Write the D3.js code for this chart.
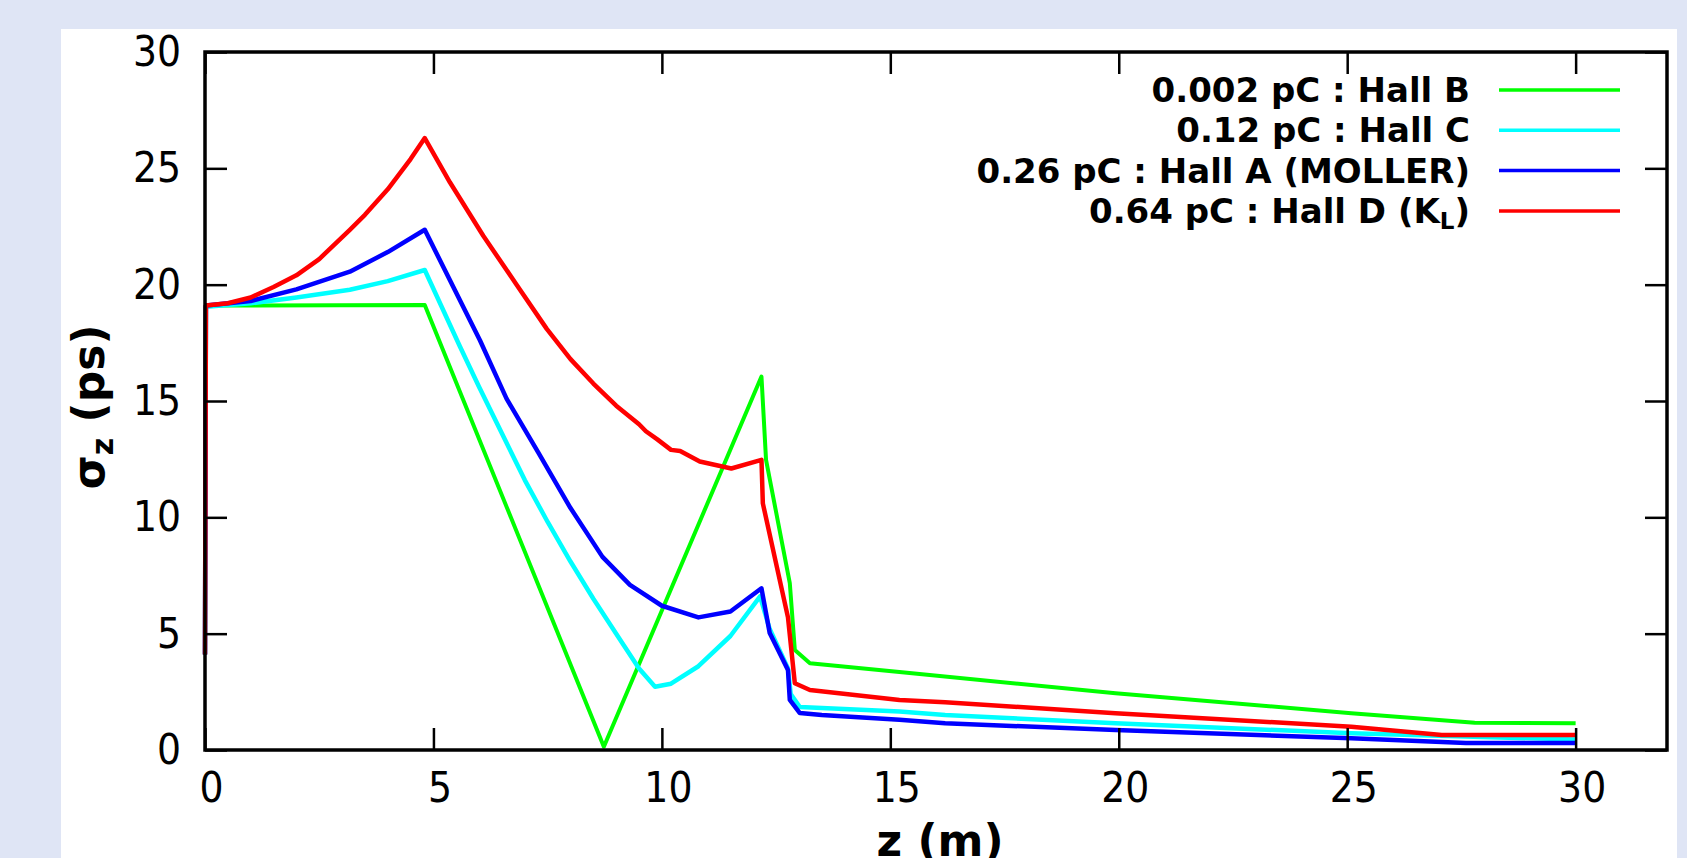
<!DOCTYPE html>
<html>
<head>
<meta charset="utf-8">
<script src="https://cdn.jsdelivr.net/npm/d3@7"></script>
<style>
  body { margin: 0; background: #dfe5f5; }
  svg { display: block; }
</style>
</head>
<body>
<div id="chart"></div>
<script>
// bunch length along the beamline
let zTicks = [0, 5, 10, 15, 20, 25, 30];
let sigmaTicks = [0, 5, 10, 15, 20, 25, 30];

let hallBz = [0, 0.02, 4.81, 8.73, 12.18, 12.28, 12.8, 12.91, 13.24, 15.2, 19.93, 25.09, 27.79, 30];
let hallBs = [4.1, 19.1, 19.13, 0.14, 16.05, 12.47, 7.17, 4.3, 3.73, 3.35, 2.44, 1.58, 1.17, 1.15];

let hallCz = [0, 0.02, 1, 2, 3.17, 4, 4.81, 5.58, 6, 7, 7.5, 8, 8.5, 9, 9.5, 9.85, 10.2, 10.8, 11.5, 12.15, 12.36, 12.76, 12.82, 13.02, 15.2, 16.2, 19.93, 25.09, 30];
let hallCs = [4.1, 19.05, 19.2, 19.45, 19.78, 20.15, 20.63, 17.34, 15.6, 11.6, 9.8, 8.1, 6.5, 5.0, 3.5, 2.72, 2.85, 3.6, 4.9, 6.6, 5.2, 3.5, 2.4, 1.85, 1.65, 1.5, 1.15, 0.72, 0.45];

let hallAz = [0, 0.02, 1, 2, 3.17, 4, 4.81, 6.02, 6.6, 7.29, 8, 8.7, 9.3, 10, 10.8, 11.5, 12.18, 12.36, 12.76, 12.8, 13.02, 13.5, 15.2, 16.2, 19.93, 25.09, 27.6, 30];
let hallAs = [4.1, 19.1, 19.3, 19.8, 20.56, 21.4, 22.36, 17.6, 15.1, 12.8, 10.4, 8.3, 7.1, 6.2, 5.7, 5.95, 6.95, 5.03, 3.44, 2.15, 1.59, 1.5, 1.3, 1.15, 0.86, 0.5, 0.3, 0.3];

let hallDz = [0, 0.02, 0.5, 1, 1.5, 2, 2.5, 3.17, 3.5, 4, 4.5, 4.81, 5.36, 6.09, 6.82, 7.48, 8, 8.5, 9, 9.5, 9.65, 9.9, 10.2, 10.4, 10.83, 11.52, 12.18, 12.21, 12.76, 12.91, 13.24, 15.2, 16.2, 19.93, 25.09, 27.07, 30];
let hallDs = [4.1, 19.1, 19.2, 19.45, 19.9, 20.4, 21.1, 22.36, 23.0, 24.1, 25.4, 26.3, 24.4, 22.1, 20.0, 18.1, 16.8, 15.75, 14.8, 14.0, 13.7, 13.35, 12.9, 12.85, 12.4, 12.1, 12.47, 10.6, 5.7, 2.87, 2.58, 2.15, 2.05, 1.58, 1.0, 0.64, 0.64];

let seriesNames = ["0.002 pC : Hall B", "0.12 pC : Hall C", "0.26 pC : Hall A (MOLLER)", "0.64 pC : Hall D (K"];
let seriesColors = ["#00ff00", "#00ffff", "#0000ff", "#ff0000"];

function render() {
    let W = 1687, H = 858;
    let margin = { top: 52, right: 20, bottom: 108, left: 205 },
        width = 1667 - margin.left,
        height = 750 - margin.top;

    let svg = d3.select("#chart")
        .append("svg")
        .attr("width", W)
        .attr("height", H);

    // white panel
    svg.append("rect")
        .attr("x", 61).attr("y", 29)
        .attr("width", 1616).attr("height", H - 29)
        .attr("fill", "white");

    let g = svg.append("g")
        .attr("transform", "translate(" + margin.left + "," + margin.top + ")");

    let x = d3.scaleLinear().domain([0, 32]).range([0, width]);
    let y = d3.scaleLinear().domain([0, 30]).range([height, 0]);

    let series = [
        { z: hallBz, s: hallBs },
        { z: hallCz, s: hallCs },
        { z: hallAz, s: hallAs },
        { z: hallDz, s: hallDs }
    ];

    let line = d3.line()
        .x(function (d) { return x(d[0]); })
        .y(function (d) { return y(d[1]); });

    series.forEach(function (sr, i) {
        let pts = sr.z.map(function (z, j) { return [z, sr.s[j]]; });
        g.append("path")
            .datum(pts)
            .attr("fill", "none")
            .attr("stroke", seriesColors[i])
            .attr("stroke-width", i == 0 ? 4 : 4.5)
            .attr("stroke-linejoin", "round")
            .attr("d", line);
    });

    let tickFont = "'DejaVu Sans Condensed', 'DejaVu Sans', sans-serif";
    let boldFont = "'DejaVu Sans', sans-serif";

    // axes with inward ticks
    let xAxis = g.append("g")
        .attr("transform", "translate(0," + height + ")")
        .call(d3.axisBottom(x).tickValues(zTicks).tickSize(-22).tickPadding(22).tickSizeOuter(0));
    let yAxis = g.append("g")
        .call(d3.axisLeft(y).tickValues(sigmaTicks).tickSize(-22).tickPadding(24).tickSizeOuter(0));
    g.append("g")
        .call(d3.axisTop(x).tickValues(zTicks).tickSize(-22).tickFormat("").tickSizeOuter(0));
    g.append("g")
        .attr("transform", "translate(" + width + ",0)")
        .call(d3.axisRight(y).tickValues(sigmaTicks).tickSize(-22).tickFormat("").tickSizeOuter(0));

    g.selectAll(".domain").remove();
    g.selectAll(".tick line").attr("stroke", "#000").attr("stroke-width", 2.5);
    g.selectAll(".tick text")
        .attr("font-family", tickFont)
        .attr("font-size", "42px")
        .attr("fill", "#000");
    xAxis.selectAll(".tick text").attr("dx", 6);

    // frame
    g.append("rect")
        .attr("width", width).attr("height", height)
        .attr("fill", "none")
        .attr("stroke", "#000")
        .attr("stroke-width", 3.5);

    // axis titles
    svg.append("text")
        .attr("x", 940).attr("y", 856)
        .attr("text-anchor", "middle")
        .attr("font-family", boldFont)
        .attr("font-weight", "bold")
        .attr("font-size", "44px")
        .text("z (m)");

    let yl = svg.append("text")
        .attr("transform", "translate(104,407) rotate(-90)")
        .attr("text-anchor", "middle")
        .attr("font-family", boldFont)
        .attr("font-weight", "bold")
        .attr("font-size", "44px");
    yl.append("tspan").text("σ");
    yl.append("tspan").attr("font-size", "30px").attr("dy", 9).text("z");
    yl.append("tspan").attr("dy", -9).text(" (ps)");

    // legend
    let leg = svg.append("g");
    seriesNames.forEach(function (name, i) {
        let cy = 90 + i * 40.3;
        let t = leg.append("text")
            .attr("x", 1470).attr("y", cy + 12)
            .attr("text-anchor", "end")
            .attr("font-family", boldFont)
            .attr("font-weight", "bold")
            .attr("font-size", "34px")
            .text(name);
        if (i == 3) {
            t.append("tspan").attr("font-size", "23px").attr("dy", 6).text("L");
            t.append("tspan").attr("dy", -6).text(")");
        }
        leg.append("line")
            .attr("x1", 1499).attr("x2", 1620)
            .attr("y1", cy).attr("y2", cy)
            .attr("stroke", seriesColors[i])
            .attr("stroke-width", 3.5);
    });
}

render();
</script>
</body>
</html>
